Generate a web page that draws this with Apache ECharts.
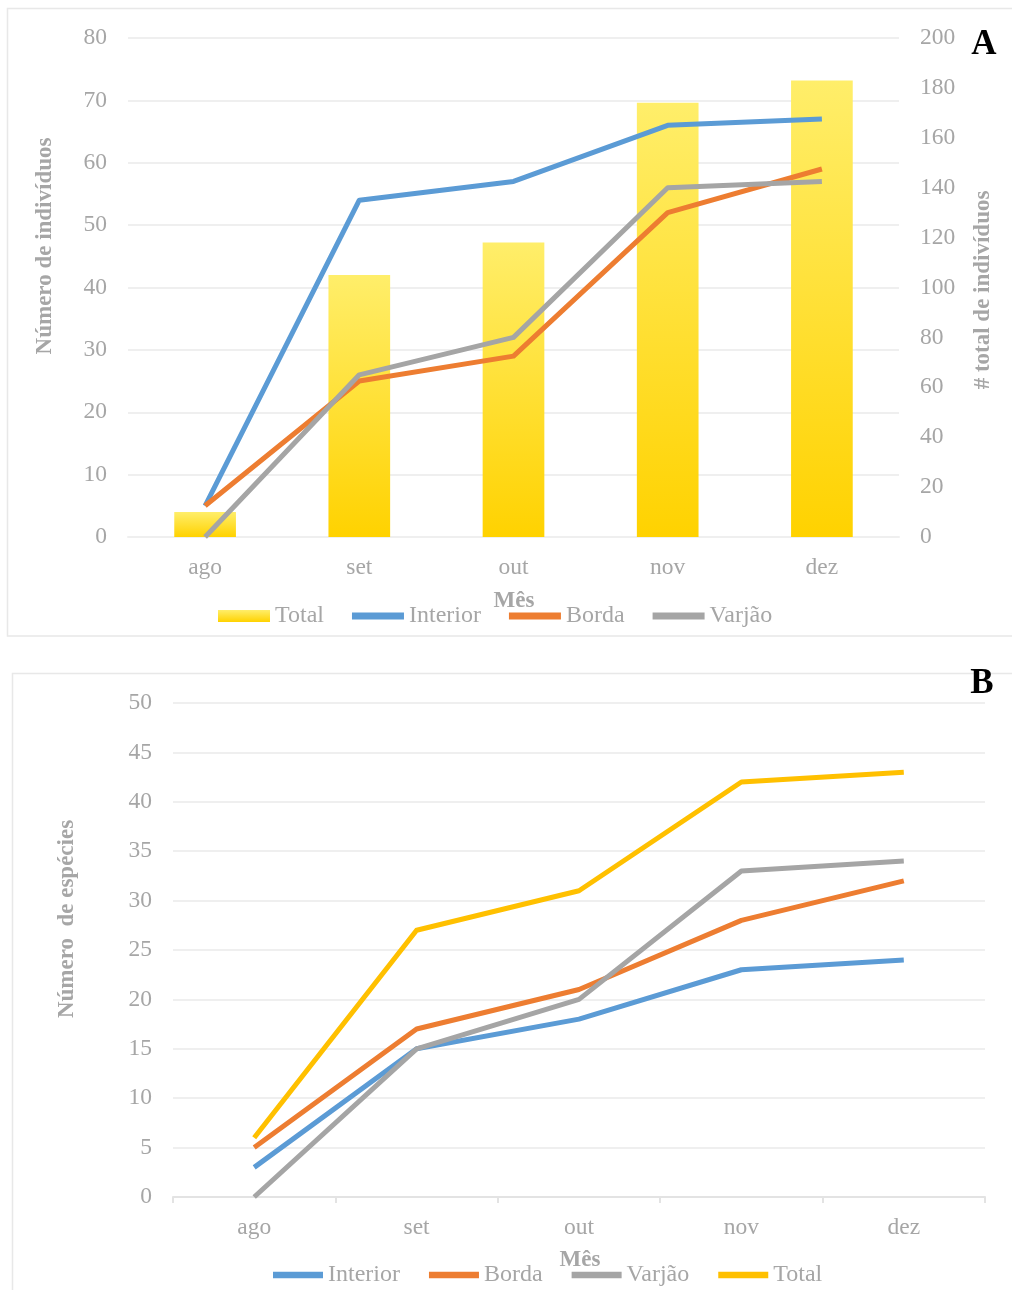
<!DOCTYPE html>
<html>
<head>
<meta charset="utf-8">
<script src="https://cdn.jsdelivr.net/npm/echarts@6/dist/echarts.min.js"></script>
<style>
  html, body { margin: 0; padding: 0; background: #ffffff; }
  #chartA { position: absolute; left: 0; top: 0; width: 1012px; height: 650px; }
  #chartB { position: absolute; left: 0; top: 650px; width: 1012px; height: 640px; }
</style>
</head>
<body>
<div id="chartA"></div>
<div id="chartB"></div>
<script>
// Months of sampling
const months = ['ago', 'set', 'out', 'nov', 'dez'];

// Panel A: number of individuals per habitat (left axis) and total (right axis)
const indivInterior = [5, 54, 57, 66, 67];
const indivBorda = [5, 25, 29, 52, 59];
const indivVarjao = [0, 26, 32, 56, 57];
const indivTotal = [10, 105, 118, 174, 183];

// Panel B: number of species per habitat and total
const espInterior = [3, 15, 18, 23, 24];
const espBorda = [5, 17, 21, 28, 32];
const espVarjao = [0, 15, 20, 33, 34];
const espTotal = [6, 27, 31, 42, 43];

// Axis ranges
const axisA = { leftMax: 80, leftStep: 10, rightMax: 200, rightStep: 20 };
const axisB = { max: 50, step: 5 };

const FONT = "'Liberation Serif', 'DejaVu Serif', serif";
const GREY_TEXT = '#A6A6A6';
const GRID_LINE = '#EFEFEF';
const C_INTERIOR = '#5B9BD5';
const C_BORDA = '#ED7D31';
const C_VARJAO = '#A5A5A5';
const C_TOTAL = '#FFC000';

// flat stroke used as the legend key of the line series
const LINE_KEY = 'path://M0,0H52V7H0Z';

const barGradient = new echarts.graphic.LinearGradient(0, 0, 0, 1, [
  { offset: 0, color: '#FFEE6A' },
  { offset: 1, color: '#FFD200' }
]);

function lineSeries(name, data, color, extra) {
  return Object.assign({
    type: 'line',
    name: name,
    data: data,
    symbol: 'none',
    lineStyle: { color: color, width: 5, cap: 'butt', join: 'round' },
    itemStyle: { color: color },
    emphasis: { disabled: true },
    animation: false
  }, extra || {});
}

function titleText(text, x, y, rotate, size, color) {
  return {
    type: 'text',
    x: x, y: y,
    rotation: rotate ? Math.PI / 2 : 0,
    silent: true,
    style: {
      text: text,
      x: 0, y: 0,
      fill: color || GREY_TEXT,
      font: 'bold ' + (size || 23) + 'px ' + FONT,
      align: 'center',
      verticalAlign: 'middle'
    }
  };
}

// ---------- Panel A ----------
const chartA = echarts.init(document.getElementById('chartA'), null, { renderer: 'canvas' });
chartA.setOption({
  backgroundColor: '#ffffff',
  animation: false,
  textStyle: { fontFamily: FONT },
  grid: { left: 128, right: 113, top: 38, bottom: 113 },
  xAxis: {
    type: 'category',
    data: months,
    boundaryGap: true,
    axisLine: { show: true, lineStyle: { color: GRID_LINE, width: 2 } },
    axisTick: { show: false },
    axisLabel: { color: GREY_TEXT, fontSize: 23.5, fontFamily: FONT, margin: 19 }
  },
  yAxis: [
    {
      type: 'value',
      min: 0, max: axisA.leftMax, interval: axisA.leftStep,
      axisLine: { show: false },
      axisTick: { show: false },
      axisLabel: { color: GREY_TEXT, fontSize: 23.5, fontFamily: FONT, margin: 21 },
      splitLine: { lineStyle: { color: GRID_LINE, width: 2 } }
    },
    {
      type: 'value',
      position: 'right',
      min: 0, max: axisA.rightMax, interval: axisA.rightStep,
      axisLine: { show: false },
      axisTick: { show: false },
      axisLabel: { color: GREY_TEXT, fontSize: 23.5, fontFamily: FONT, margin: 21 },
      splitLine: { show: false }
    }
  ],
  legend: {
    left: 218,
    top: 604,
    padding: 0,
    itemWidth: 52,
    itemHeight: 12,
    itemGap: 28,
    selectedMode: false,
    textStyle: { color: GREY_TEXT, fontSize: 24, fontFamily: FONT },
    data: [
      { name: 'Total', icon: 'rect' },
      { name: 'Interior', icon: LINE_KEY },
      { name: 'Borda', icon: LINE_KEY },
      { name: 'Varjão', icon: LINE_KEY }
    ]
  },
  series: [
    {
      type: 'bar',
      name: 'Total',
      yAxisIndex: 1,
      data: indivTotal,
      barWidth: '40%',
      itemStyle: { color: barGradient },
      emphasis: { disabled: true },
      z: 1
    },
    lineSeries('Interior', indivInterior, C_INTERIOR, { z: 3 }),
    lineSeries('Borda', indivBorda, C_BORDA, { z: 4 }),
    lineSeries('Varjão', indivVarjao, C_VARJAO, { z: 5 })
  ],
  graphic: [
    {
      type: 'rect', silent: true, z: -10,
      shape: { x: 7.5, y: 8.5, width: 1010, height: 627.5 },
      style: { fill: 'none', stroke: '#E8E8E8', lineWidth: 1.5 }
    },
    titleText('Número de indivíduos', 45, 246, true),
    titleText('# total de indivíduos', 983, 290, true),
    titleText('Mês', 514, 601, false),
    titleText('A', 984, 45, false, 35, '#000000')
  ]
});

// ---------- Panel B ----------
const chartB = echarts.init(document.getElementById('chartB'), null, { renderer: 'canvas' });
chartB.setOption({
  backgroundColor: '#ffffff',
  animation: false,
  textStyle: { fontFamily: FONT },
  grid: { left: 173, right: 27, top: 53, bottom: 93 },
  xAxis: {
    type: 'category',
    data: months,
    boundaryGap: true,
    axisLine: { show: true, lineStyle: { color: '#E3E3E3', width: 2 } },
    axisTick: { show: true, length: 6, lineStyle: { color: '#E3E3E3', width: 2 } },
    axisLabel: { color: GREY_TEXT, fontSize: 23.5, fontFamily: FONT, margin: 19 }
  },
  yAxis: {
    type: 'value',
    min: 0, max: axisB.max, interval: axisB.step,
    axisLine: { show: false },
    axisTick: { show: false },
    axisLabel: { color: GREY_TEXT, fontSize: 23.5, fontFamily: FONT, margin: 21 },
    splitLine: { lineStyle: { color: GRID_LINE, width: 2 } }
  },
  legend: {
    left: 273,
    top: 613,
    padding: 0,
    itemWidth: 50,
    itemHeight: 12,
    itemGap: 29,
    selectedMode: false,
    textStyle: { color: GREY_TEXT, fontSize: 24, fontFamily: FONT },
    data: [
      { name: 'Interior', icon: LINE_KEY },
      { name: 'Borda', icon: LINE_KEY },
      { name: 'Varjão', icon: LINE_KEY },
      { name: 'Total', icon: LINE_KEY }
    ]
  },
  series: [
    lineSeries('Interior', espInterior, C_INTERIOR, { z: 2 }),
    lineSeries('Borda', espBorda, C_BORDA, { z: 3 }),
    lineSeries('Varjão', espVarjao, C_VARJAO, { z: 4 }),
    lineSeries('Total', espTotal, C_TOTAL, { z: 5 })
  ],
  graphic: [
    {
      type: 'rect', silent: true, z: -10,
      shape: { x: 12.5, y: 23.5, width: 1010, height: 640 },
      style: { fill: 'none', stroke: '#E8E8E8', lineWidth: 1.5 }
    },
    titleText('Número  de espécies', 67, 269, true),
    titleText('Mês', 580, 610, false),
    titleText('B', 982, 34, false, 35, '#000000')
  ]
});
</script>
</body>
</html>
